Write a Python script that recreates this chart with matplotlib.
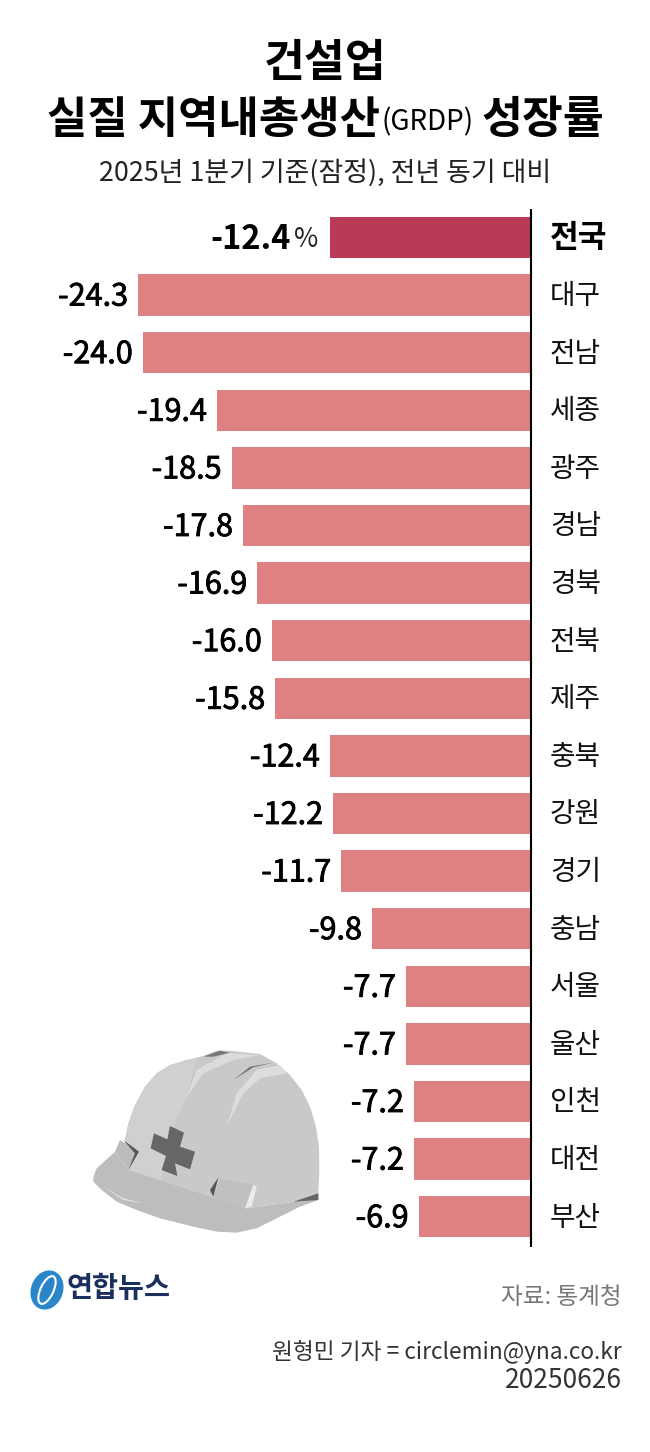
import matplotlib
matplotlib.use('Agg')
import matplotlib.pyplot as plt
import matplotlib.patheffects as pe
from matplotlib.patches import Polygon, Ellipse

plt.rcParams['font.family'] = ['Noto Sans CJK KR', 'DejaVu Sans']

regions = ['전국', '대구', '전남', '세종', '광주', '경남', '경북', '전북', '제주',
           '충북', '강원', '경기', '충남', '서울', '울산', '인천', '대전', '부산']
growth = [-12.4, -24.3, -24.0, -19.4, -18.5, -17.8, -16.9, -16.0, -15.8,
          -12.4, -12.2, -11.7, -9.8, -7.7, -7.7, -7.2, -7.2, -6.9]
labels = ['-12.4', '-24.3', '-24.0', '-19.4', '-18.5', '-17.8', '-16.9', '-16.0', '-15.8',
          '-12.4', '-12.2', '-11.7', '-9.8', '-7.7', '-7.7', '-7.2', '-7.2', '-6.9']

W, H = 650, 1452
PX_PER_UNIT = 16.13
ROW = 57.6
ZERO_X = 530
FIRST_Y = 237.5

fig = plt.figure(figsize=(W / 100, H / 100), dpi=100, facecolor='white')

# overlay in pixel units, for titles and the drawing
px = fig.add_axes([0, 0, 1, 1])
px.set_xlim(0, W)
px.set_ylim(H, 0)
px.axis('off')

ax = fig.add_axes([0, 0, 1, 1])
ax.patch.set_alpha(0)
ax.set_xlim(-ZERO_X / PX_PER_UNIT, (W - ZERO_X) / PX_PER_UNIT)
ax.set_ylim((H - FIRST_Y) / ROW, -FIRST_Y / ROW)
ax.axis('off')

colors = ['#b83a57'] + ['#df8082'] * (len(growth) - 1)
y = list(range(len(growth)))
ax.barh(y, growth, height=0.72, color=colors, linewidth=0)
ax.plot([0.06, 0.06], [-0.5, 17.53], color='black', lw=1.5, solid_capstyle='butt')

semi = [pe.withStroke(linewidth=0.6, foreground='black')]
for i, (v, lab, reg) in enumerate(zip(growth, labels, regions)):
    if i == 0:
        ax.annotate('%', (v, i), xytext=(-12, -2), textcoords='offset pixels', ha='right', va='center',
                    fontsize=19, color='#222222')
        ax.annotate(lab, (v, i), xytext=(-39, -2), textcoords='offset pixels', ha='right', va='center',
                    fontsize=23.5, fontweight='bold', color='black')
        ax.annotate(reg, (0, i), xytext=(20, -1), textcoords='offset pixels', ha='left', va='center',
                    fontsize=22.5, fontweight='bold', color='black')
    else:
        ax.annotate(lab, (v, i), xytext=(-10, -2), textcoords='offset pixels', ha='right', va='center',
                    fontsize=22, color='black', path_effects=semi)
        ax.annotate(reg, (0, i), xytext=(20, -1), textcoords='offset pixels', ha='left', va='center',
                    fontsize=20, color='#111111')

# titles
px.text(325, 63, '건설업', ha='center', va='center', fontsize=32, fontweight='bold', color='black')
px.text(47, 120, '실질 지역내총생산', ha='left', va='center', fontsize=31.6, fontweight='bold', color='black')
px.text(381, 122, '(GRDP)', ha='left', va='center', fontsize=20, color='black')
px.text(604, 120, '성장률', ha='right', va='center', fontsize=32, fontweight='bold', color='black')
px.text(325, 173, '2025년 1분기 기준(잠정), 전년 동기 대비', ha='center', va='center', fontsize=19.4, color='#222222')

# footer
px.text(622, 1297, '자료: 통계청', ha='right', va='center', fontsize=17, color='#777777')
px.text(622, 1352, '원형민 기자 = circlemin@yna.co.kr', ha='right', va='center', fontsize=16.3, color='#333333')
px.text(622, 1381, '20250626', ha='right', va='center', fontsize=19, color='#333333')

# logo
px.add_patch(Ellipse((47, 1290), 32, 40, angle=20, color='#2a86c8', lw=0))
px.add_patch(Ellipse((47, 1290), 13, 30, angle=25, fill=False, ec='white', lw=1.5))
px.text(67, 1289, '연합뉴스', ha='left', va='center', fontsize=20.4, fontweight='bold', color='#1b2f5e')


def zoomed(points):
    return [(x / 3 + 60, v / 3 + 1030) for x, v in points]


shell = [(205, 420), (195, 330), (205, 280), (225, 225), (255, 170), (290, 130), (330, 105), (380, 90),
         (430, 78), (470, 62), (510, 62), (600, 72), (650, 100), (690, 135), (725, 180), (750, 230),
         (768, 290), (777, 350), (778, 420), (775, 490), (700, 515), (560, 535), (450, 500), (300, 465)]
helmet = [
    (shell, '#c9c9c9'),
    ([(205, 420), (195, 330), (205, 280), (225, 225), (255, 170), (290, 130), (330, 105), (410, 85),
      (380, 200), (340, 290), (300, 465)], '#d0d0d0'),
    ([(165, 365), (110, 415), (100, 440), (100, 455), (125, 480), (170, 515), (230, 540), (300, 565),
      (400, 590), (470, 605), (530, 608), (590, 595), (650, 565), (720, 530), (775, 510), (775, 490),
      (700, 515), (560, 535), (450, 500), (205, 420)], '#bdbdbd'),
    ([(380, 200), (410, 120), (500, 70), (600, 75), (520, 90), (430, 130)], '#dcdcdc'),
    ([(500, 290), (530, 190), (590, 120), (660, 105), (680, 130), (600, 145), (550, 190)], '#dddddd'),
    ([(430, 80), (480, 62), (510, 68), (460, 80)], '#777777'),
    ([(520, 150), (570, 110), (640, 98), (580, 112)], '#777777'),
    ([(130, 470), (190, 505), (250, 520), (190, 510)], '#e6e6e6'),
    ([(180, 330), (235, 365), (205, 420), (165, 365)], '#bcbcbc'),
    ([(190, 330), (237, 365), (205, 420), (225, 370)], '#555555'),
    ([(480, 445), (580, 465), (555, 535), (460, 505)], '#c0c0c0'),
    ([(580, 465), (590, 470), (575, 530), (555, 535)], '#ebebeb'),
    ([(475, 442), (450, 480), (460, 500)], '#555555'),
    ([(700, 515), (775, 490), (775, 510)], '#666666'),
    ([(330, 288), (372, 308), (360, 350), (405, 365), (390, 418), (345, 400), (352, 438), (305, 420),
      (318, 378), (272, 355), (282, 310), (322, 328)], '#666666'),
]
for pts, c in helmet:
    px.add_patch(Polygon(zoomed(pts), closed=True, facecolor=c, edgecolor='none'))

fig.savefig('out.png', dpi=100)
